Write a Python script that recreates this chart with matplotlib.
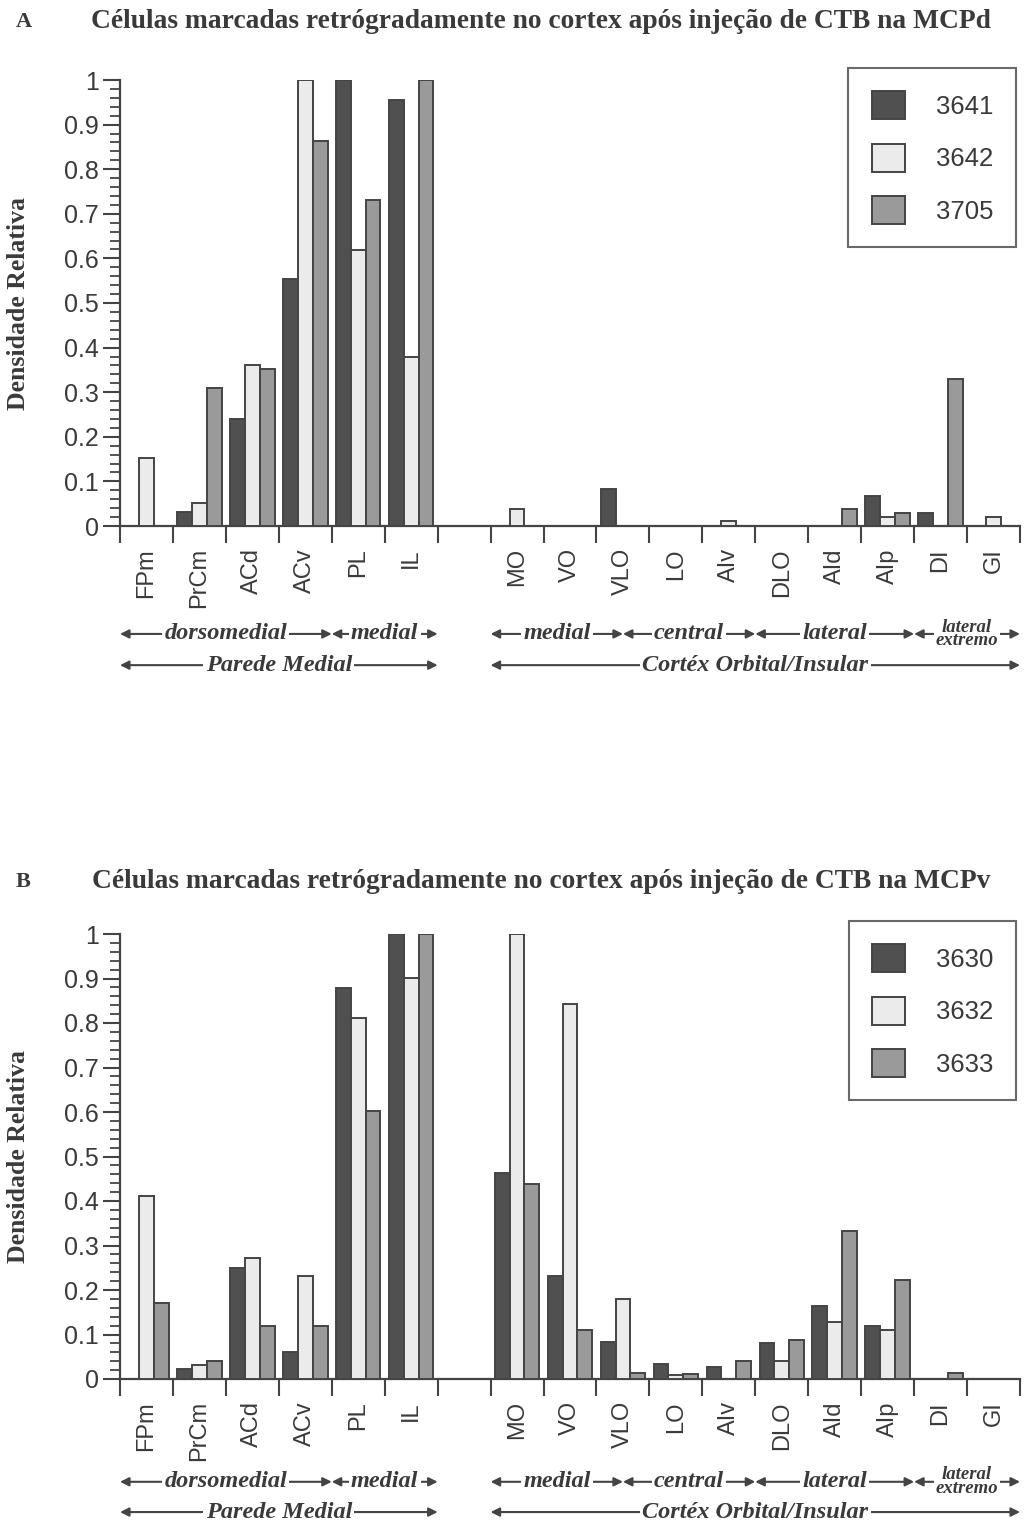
import matplotlib
matplotlib.use("Agg")
import matplotlib.pyplot as plt
import matplotlib.transforms as mtransforms
from matplotlib.patches import Patch

# regiões corticais (o slot 6 fica vazio entre parede medial e córtex orbital)
regions = ['FPm', 'PrCm', 'ACd', 'ACv', 'PL', 'IL',
           'MO', 'VO', 'VLO', 'LO', 'AIv', 'DLO', 'AId', 'AIp', 'DI', 'GI']
slots = [0, 1, 2, 3, 4, 5, 7, 8, 9, 10, 11, 12, 13, 14, 15, 16]

# A - injeção na MCPd
labels_a = ['3641', '3642', '3705']
a_3641 = [0, 0.032, 0.241, 0.553, 1.0, 0.955, 0, 0, 0.082, 0, 0, 0, 0, 0.068, 0.03, 0]
a_3642 = [0.153, 0.051, 0.361, 1.0, 0.619, 0.38, 0.039, 0, 0, 0, 0.011, 0, 0, 0.02, 0, 0.02]
a_3705 = [0, 0.309, 0.351, 0.863, 0.732, 1.0, 0, 0, 0, 0, 0, 0, 0.039, 0.03, 0.33, 0]

# B - injeção na MCPv
labels_b = ['3630', '3632', '3633']
b_3630 = [0, 0.023, 0.249, 0.061, 0.879, 1.0, 0.464, 0.232, 0.084, 0.033, 0.027, 0.082, 0.163, 0.12, 0, 0]
b_3632 = [0.412, 0.032, 0.272, 0.231, 0.811, 0.902, 1.0, 0.842, 0.18, 0.01, 0, 0.041, 0.128, 0.111, 0, 0]
b_3633 = [0.171, 0.041, 0.12, 0.12, 0.603, 1.0, 0.439, 0.111, 0.013, 0.012, 0.041, 0.088, 0.333, 0.223, 0.013, 0]

# faixas (início, fim em unidades de slot) e textos das setas
sub_groups = [(-0.5, 3.5, 'dorsomedial'), (3.5, 5.5, 'medial'),
              (6.5, 9.0, 'medial'), (9.0, 11.5, 'central'),
              (11.5, 14.5, 'lateral'), (14.5, 16.5, 'lateral\nextremo')]
main_groups = [(-0.5, 5.5, 'Parede Medial'), (6.5, 16.5, 'Cortéx Orbital/Insular')]

INK = '#3a3a3a'
colors = ['#505050', '#ebebeb', '#9a9a9a']
W = 0.28

fig = plt.figure(figsize=(10.25, 15.21), dpi=100)
fig.patch.set_facecolor('white')


def panel(rect, series, labels, letter, title, letter_y, leg_top, y1, y2):
    ax = fig.add_axes(rect)
    for i, (vals, lab) in enumerate(zip(series, labels)):
        xs = [s + (i - 1) * W for s in slots]
        ax.bar(xs, vals, width=W, color=colors[i], edgecolor='#444444',
               linewidth=1.4, label=lab, zorder=3)

    ax.set_xlim(-0.5, 16.5)
    ax.set_ylim(0, 1)
    for sp in ['top', 'right']:
        ax.spines[sp].set_visible(False)
    for sp in ['left', 'bottom']:
        ax.spines[sp].set_color('#444444')
        ax.spines[sp].set_linewidth(1.6)

    # rótulos nos centros, ticks nas divisórias
    ax.set_xticks(slots)
    ax.set_xticklabels(regions, rotation=90, fontsize=17, family='Liberation Sans',
                       color=INK, va='top')
    ax.set_xticks([x - 0.5 for x in range(18)], minor=True)
    ax.tick_params(axis='x', which='major', length=0, pad=16)
    ax.tick_params(axis='x', which='minor', length=12, width=1.5, color='#444444', direction='out')

    ax.set_yticks([i / 10 for i in range(11)])
    ax.set_yticklabels(['0'] + ['0.%d' % i for i in range(1, 10)] + ['1'],
                       fontsize=18, family='Liberation Sans', color=INK)
    ax.set_yticks([i / 50 for i in range(51)], minor=True)
    ax.tick_params(axis='y', which='major', length=12, width=1.5, color='#444444', pad=3)
    ax.tick_params(axis='y', which='minor', length=7, width=1.3, color='#444444')

    ax.set_ylabel('Densidade Relativa', fontsize=18.5, family='Liberation Serif',
                  fontweight='bold', color=INK)
    ax.yaxis.set_label_coords(-0.1, 0.5)

    handles = [Patch(facecolor=c, edgecolor='#444444', linewidth=1.4) for c in colors]
    leg = ax.legend(handles, labels, loc='upper right', bbox_to_anchor=(0.996, leg_top),
                    frameon=True, fancybox=False, handlelength=1.3,
                    handleheight=1.3, labelspacing=0.95, borderpad=0.9,
                    handletextpad=1.2, borderaxespad=0,
                    prop={'family': 'Liberation Sans', 'size': 18.5})
    leg.get_frame().set_edgecolor('#444444')
    leg.get_frame().set_linewidth(1.5)
    for t in leg.get_texts():
        t.set_color(INK)

    trans = mtransforms.blended_transform_factory(ax.transData, ax.transAxes)
    for rows, yy in [(sub_groups, y1), (main_groups, y2)]:
        for x0, x1, txt in rows:
            ax.annotate('', xy=(x1, yy), xytext=(x0, yy), xycoords=trans, textcoords=trans,
                        arrowprops=dict(arrowstyle='<|-|>', color='#444444', lw=1.5,
                                        shrinkA=0, shrinkB=0, mutation_scale=13),
                        annotation_clip=False)
            size = 13.5 if '\n' in txt else 17.5
            ax.text((x0 + x1) / 2, yy, txt, transform=trans, ha='center', va='center',
                    fontsize=size, family='Liberation Serif', style='italic',
                    fontweight='bold', color=INK, linespacing=0.75,
                    bbox=dict(facecolor='white', edgecolor='none', pad=1.5), clip_on=False)

    fig.text(16 / 1025, 1 - letter_y / 1521, letter, fontsize=16, family='Liberation Serif',
             fontweight='bold', color=INK, va='center')
    fig.text(541 / 1025, 1 - letter_y / 1521, title, fontsize=19.8, family='Liberation Serif',
             fontweight='bold', color=INK, va='center', ha='center')
    return ax


panel([120 / 1025, 1 - 526 / 1521, 900 / 1025, 446 / 1521],
      [a_3641, a_3642, a_3705], labels_a, 'A',
      'Células marcadas retrógradamente no cortex após injeção de CTB na MCPd',
      22, 1 + 12 / 446, -0.242, -0.312)

panel([120 / 1025, 1 - 1379 / 1521, 900 / 1025, 445 / 1521],
      [b_3630, b_3632, b_3633], labels_b, 'B',
      'Células marcadas retrógradamente no cortex após injeção de CTB na MCPv',
      882, 1 + 13 / 445, -0.231, -0.299)

fig.savefig('out.png', dpi=100, facecolor='white')
